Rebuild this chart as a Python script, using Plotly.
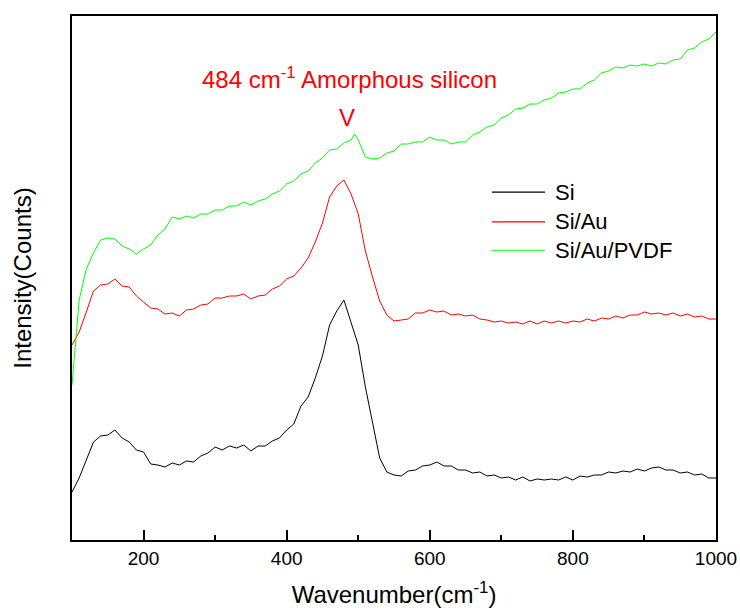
import plotly.graph_objects as go

wavenumber = list(range(100, 1001, 10))
wavenumber_pvdf = list(range(100, 491, 10)) + [495] + list(range(500, 1001, 10))

si = [48, 62, 80, 98, 104, 105, 110, 102, 98, 90, 88, 76, 75, 73, 77, 75, 79, 78, 84, 87,
      93, 90, 94, 92, 95, 89, 94, 94, 99, 102, 110, 116, 134, 143, 162, 184, 215, 229, 240, 218,
      195, 153, 118, 82, 68, 65, 64, 69, 70, 74, 75, 78, 74, 74, 70, 70, 67, 68, 64, 65,
      62, 63, 60, 63, 59, 61, 60, 61, 60, 63, 60, 64, 63, 65, 65, 68, 67, 69, 68, 71,
      69, 72, 73, 70, 70, 67, 68, 65, 66, 62, 62]

si_au = [195, 208, 228, 249, 255, 256, 261, 254, 253, 244, 238, 232, 231, 226, 227, 224, 230, 231, 235, 236,
         242, 242, 244, 244, 246, 241, 244, 245, 251, 254, 261, 264, 272, 282, 298, 317, 343, 354, 360, 346,
         326, 289, 263, 239, 225, 219, 220, 221, 227, 227, 230, 228, 229, 225, 226, 224, 225, 221, 220, 218,
         219, 217, 218, 216, 219, 216, 219, 217, 219, 217, 219, 218, 221, 219, 222, 221, 224, 222, 225, 225,
         228, 226, 227, 225, 227, 224, 226, 223, 224, 221, 221]

si_au_pvdf = [155, 240, 271, 287, 300, 302, 301, 294, 291, 286, 291, 295, 305, 311, 323, 321, 324, 322, 326, 326,
              330, 330, 334, 334, 338, 335, 339, 341, 346, 349, 356, 359, 366, 369, 377, 382, 390, 391, 397, 400,
              406,
              400, 383, 381, 382, 387, 389, 396, 396, 398, 398, 403, 400, 400, 396, 398, 398, 405, 408, 413, 415,
              422, 425, 431, 432, 436, 436, 440, 442, 447, 448, 451, 451, 457, 460, 467, 469, 473, 472, 475, 474,
              476, 474, 477, 476, 480, 481, 490, 492, 498, 501, 508]

series = [("Si", wavenumber, si, "#000000"),
          ("Si/Au", wavenumber, si_au, "#FF0000"),
          ("Si/Au/PVDF", wavenumber_pvdf, si_au_pvdf, "#00FF00")]

FONT = "Liberation Sans, Arial, sans-serif"

fig = go.Figure()
for name, xs, vals, color in series:
    fig.add_trace(go.Scatter(x=xs, y=vals, mode="lines", name=name, showlegend=False,
                             line=dict(color=color, width=1)))

# hand-drawn legend (long line samples like the reference)
legend_rows = [0.664, 0.607, 0.553]
shapes = []
annotations = []
for (name, _, _, color), yy in zip(series, legend_rows):
    shapes.append(dict(type="line", xref="paper", yref="paper", x0=0.652, x1=0.7345, y0=yy, y1=yy,
                       line=dict(color=color, width=1.2)))
    annotations.append(dict(x=0.747, y=yy, xref="paper", yref="paper", text=name, showarrow=False,
                            xanchor="left", yanchor="middle",
                            font=dict(size=22, family=FONT, color="black")))

annotations += [
    dict(x=-0.078, y=0.5, xref="paper", yref="paper", text="Intensity(Counts)", textangle=-90,
         showarrow=False, font=dict(size=24, family=FONT, color="black"), xanchor="center", yanchor="middle"),
    dict(x=488, y=462, xref="x", yref="y", text="484 cm<sup>-1</sup> Amorphous silicon", showarrow=False,
         font=dict(size=24, family=FONT, color="#FF0000"), xanchor="center", yanchor="middle"),
    dict(x=485, y=423, xref="x", yref="y", text="V", showarrow=False,
         font=dict(size=24, family=FONT, color="#FF0000"), xanchor="center", yanchor="middle"),
]

fig.update_layout(
    width=740, height=613,
    margin=dict(l=72, r=24, t=16, b=73, autoexpand=False),
    paper_bgcolor="white", plot_bgcolor="white",
    font=dict(family=FONT, color="black"),
    showlegend=False,
    xaxis=dict(range=[100, 1000], tick0=200, dtick=200, ticks="inside", ticklen=10,
               tickwidth=1.5, tickcolor="black", showline=True, linecolor="black", linewidth=2,
               mirror=True, showgrid=False, zeroline=False, automargin=False,
               tickfont=dict(size=19, family=FONT, color="black"),
               minor=dict(dtick=100, tick0=100, ticks="inside", ticklen=5, tickwidth=1.5, tickcolor="black"),
               title=dict(text="Wavenumber(cm<sup>-1</sup>)", font=dict(size=24, family=FONT, color="black"),
                          standoff=18)),
    yaxis=dict(range=[0, 524], showticklabels=False, ticks="", showline=True, linecolor="black",
               linewidth=2, mirror=True, showgrid=False, zeroline=False, automargin=False),
    shapes=shapes,
    annotations=annotations,
)

fig.write_html("out.html")
